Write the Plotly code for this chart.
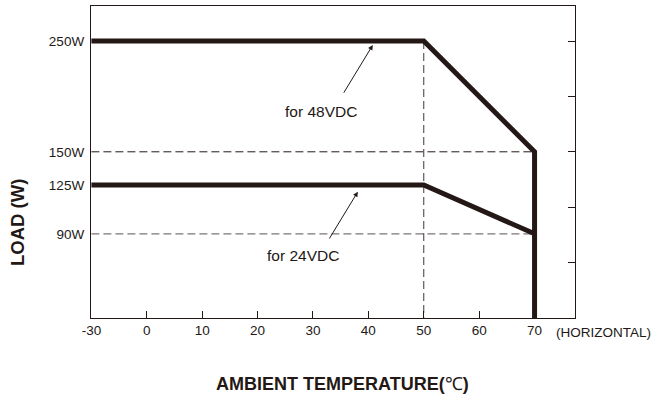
import numpy as np
import plotly.graph_objects as go

# ---- data ----
x_ticks = [-30, 0, 10, 20, 30, 40, 50, 60, 70]
temp_48 = [-30, 50, 70, 70]
load_48 = [250, 250, 150, 0]
temp_24 = [-30, 50, 70]
load_24 = [125, 125, 90]
y_levels = [250, 150, 125, 90]
y_labels = ["250W", "150W", "125W", "90W"]
right_ticks = [50, 100, 150, 200, 250]
label_48 = "for 48VDC"
label_24 = "for 24VDC"

# ---- schematic (not-to-scale) axis mapping ----
def xpos(t):
    t = np.asarray(t, dtype=float)
    return np.where(t >= 0, t, t / 3.0)   # -30..0 segment compressed

Y_ANCHOR_VAL = [0, 90, 125, 150, 250]
Y_ANCHOR_POS = [0, 76, 120, 150, 250]
def ypos(v):
    return np.interp(np.asarray(v, dtype=float), Y_ANCHOR_VAL, Y_ANCHOR_POS)

FONT = "Liberation Sans, Arial, Helvetica, sans-serif"
INK = "#231815"

fig = go.Figure()

# dashed guide lines
fig.add_trace(go.Scatter(x=xpos([-30, 70]), y=ypos([150, 150]), mode="lines",
                         line=dict(color=INK, width=1, dash="8px,4px"), hoverinfo="skip"))
fig.add_trace(go.Scatter(x=xpos([-30, 70]), y=ypos([90, 90]), mode="lines",
                         line=dict(color="#7b7574", width=1.3, dash="8px,4px"), hoverinfo="skip"))
fig.add_trace(go.Scatter(x=xpos([50, 50]), y=ypos([250, 0]), mode="lines",
                         line=dict(color="#3c3634", width=1, dash="8px,4px"), hoverinfo="skip"))

# derating curves
fig.add_trace(go.Scatter(x=xpos(temp_48), y=ypos(load_48), mode="lines",
                         line=dict(color=INK, width=5), hoverinfo="skip"))
fig.add_trace(go.Scatter(x=xpos(temp_24), y=ypos(load_24), mode="lines",
                         line=dict(color=INK, width=5), hoverinfo="skip"))
# dummy on right axis
fig.add_trace(go.Scatter(x=[None], y=[None], yaxis="y2", hoverinfo="skip"))

annotations = [
    dict(x=40.8, y=246.4, ax=35.4, ay=202, xref="x", yref="y", axref="x", ayref="y",
         text="", showarrow=True, arrowhead=2, arrowsize=1, arrowwidth=1, arrowcolor=INK, standoff=0),
    dict(x=38.1, y=114, ax=32.8, ay=70.4, xref="x", yref="y", axref="x", ayref="y",
         text="", showarrow=True, arrowhead=2, arrowsize=1, arrowwidth=1, arrowcolor=INK, standoff=0),
    dict(x=31.5, y=186.2, xref="x", yref="y", text=label_48, showarrow=False,
         font=dict(family=FONT, size=15.5, color=INK)),
    dict(x=28.2, y=56, xref="x", yref="y", text=label_24, showarrow=False,
         font=dict(family=FONT, size=15.5, color=INK)),
    dict(x=73.5, y=0, xref="x", yref="paper", xanchor="left", yanchor="middle", yshift=-14,
         text="(HORIZONTAL)", showarrow=False, font=dict(family=FONT, size=13.5, color=INK)),
    dict(x=0.5186, y=0, xref="paper", yref="paper", xanchor="center", yanchor="middle", yshift=-66,
         text="<b>AMBIENT TEMPERATURE(</b>℃<b>)</b>", showarrow=False,
         font=dict(family=FONT, size=18, color=INK)),
    dict(x=-0.1508, y=0.3045, xref="paper", yref="paper", xanchor="center", yanchor="middle",
         text="<b>LOAD (W)</b>", textangle=-90, showarrow=False,
         font=dict(family=FONT, size=18.5, color=INK)),
]

fig.update_layout(
    width=651, height=400,
    margin=dict(l=91, r=76, t=6, b=82),
    paper_bgcolor="white", plot_bgcolor="white",
    showlegend=False,
    font=dict(family=FONT, size=13.5, color=INK),
    xaxis=dict(range=[-10.07, 77.3], tickvals=list(xpos(x_ticks)), ticktext=[str(t) for t in x_ticks],
               ticks="inside", ticklen=7, tickwidth=1, tickcolor=INK,
               showline=True, linecolor=INK, linewidth=1.3, mirror=True,
               showgrid=False, zeroline=False, ticklabelstandoff=0,
               tickfont=dict(family=FONT, size=13.5, color=INK)),
    yaxis=dict(range=[0, 281.6], tickvals=list(ypos(y_levels)), ticktext=y_labels,
               ticks="", showline=True, linecolor=INK, linewidth=1.3, mirror=True,
               showgrid=False, zeroline=False, ticklabelstandoff=3,
               tickfont=dict(family=FONT, size=13.5, color=INK)),
    yaxis2=dict(range=[0, 281.6], overlaying="y", side="right", anchor="x",
                tickvals=right_ticks, ticks="inside", ticklen=7, tickwidth=1,
                tickcolor=INK, showticklabels=False, showline=False, showgrid=False, zeroline=False),
    annotations=annotations,
)

fig.write_html("out.html", config={"displayModeBar": False},
               post_script="document.body.style.margin='0';document.body.style.padding='0';"
                           "document.documentElement.style.overflow='hidden';")
